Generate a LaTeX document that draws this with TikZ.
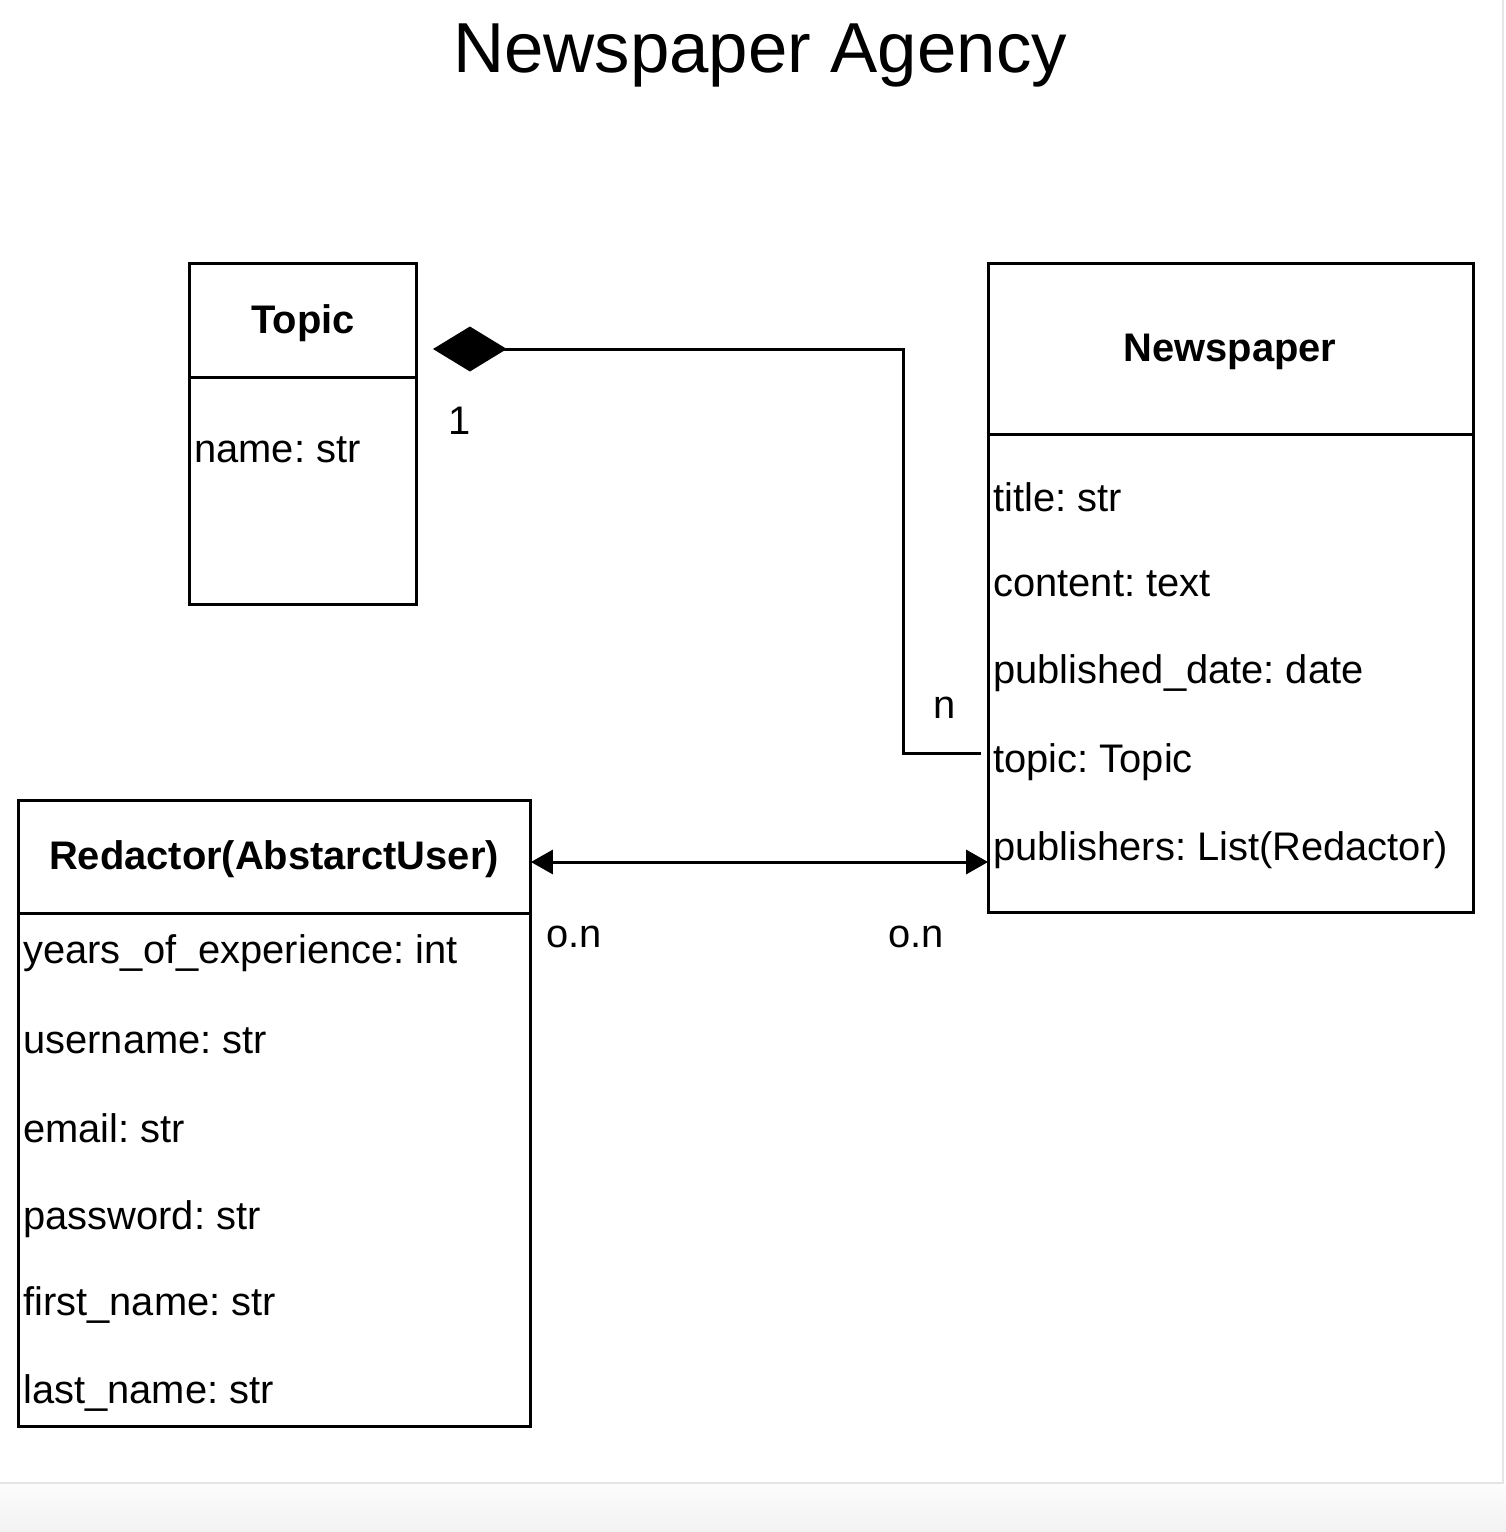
\documentclass[tikz,border=0pt]{standalone}
\usepackage{fontspec}
\setmainfont{Liberation Sans}
\usetikzlibrary{arrows.meta,calc}
\newcommand\umlfont{\frenchspacing\fontsize{22.7pt}{27pt}\selectfont}
\newcommand\titlefont{\frenchspacing\fontsize{40.3pt}{48pt}\selectfont}
\begin{document}
\begin{tikzpicture}[x=0.02cm,y=-0.02cm,
  classbox/.style={draw, line width=1.7pt, inner sep=0pt, outer sep=0pt},
  header/.style={font=\umlfont\bfseries, inner sep=0pt},
  attr/.style={font=\umlfont, anchor=west, inner sep=0pt},
  mult/.style={font=\umlfont, inner sep=0pt},
  link/.style={line width=1.7pt}]
  % page frame and the light strip at the bottom
  \useasboundingbox (0,0) rectangle (1506,1532);
  \fill[white] (0,0) rectangle (1506,1532);
  \shade[top color=white!99!black, bottom color=white!95!black] (0,1483) rectangle (1506,1532);
  \draw[white!90!black, line width=0.6pt] (0,1483) -- (1503,1483) -- (1503,0);

  % title
  \node[font=\titlefont, inner sep=0pt] (title) at (760,55) {Newspaper Agency};

  % Topic class
  \node[classbox, minimum width=4.56cm, minimum height=6.84cm] (topic) at (303,434) {};
  \draw[link] ($(topic.north west)+(0,114)$) -- ($(topic.north east)+(0,114)$);
  \node[header] (topicname) at (303,323) {Topic};
  \node[attr] (tname) at (194,450) {name: str};

  % Newspaper class
  \node[classbox, minimum width=9.72cm, minimum height=13cm] (news) at (1231,588) {};
  \draw[link] ($(news.north west)+(0,171)$) -- ($(news.north east)+(0,171)$);
  \node[header] (newsname) at (1230,352) {Newspaper};
  \node[attr] (ntitle) at (993,497) {title: str};
  \node[attr] (ncontent) at (993,584) {content: text};
  \node[attr] (ndate) at (993,673) {published\_date: date};
  \node[attr] (ntopic) at (993,762) {topic: Topic};
  \node[attr] (npub) at (993,850) {publishers: List(Redactor)};

  % Redactor class
  \node[classbox, minimum width=10.26cm, minimum height=12.54cm] (red) at (274.5,1113.5) {};
  \draw[link] ($(red.north west)+(0,113)$) -- ($(red.north east)+(0,113)$);
  \node[header] (redname) at (274,859) {Redactor(AbstarctUser)};
  \node[attr] (ryears) at (23,953) {years\_of\_experience: int};
  \node[attr] (ruser) at (23,1041) {username: str};
  \node[attr] (remail) at (23,1128) {email: str};
  \node[attr] (rpass) at (23,1219) {password: str};
  \node[attr] (rfirst) at (23,1305) {first\_name: str};
  \node[attr] (rlast) at (23,1393) {last\_name: str};

  % composition: Newspaper.topic -> Topic
  \coordinate (diamondtip) at (433,349);
  \draw[link, -{Diamond[length=42pt, width=25.6pt]}]
    ($(ntopic.west)+(-12,-9)$) -- ++(-78,0) |- (diamondtip);
  \node[mult] (one) at (460,421) {1};
  \node[mult] (many) at (945,708) {n};

  % many-to-many: Redactor <-> Newspaper
  \coordinate (row) at (760,862);
  \draw[link, {Triangle[length=12.5pt, width=13.7pt]}-{Triangle[length=12.5pt, width=13.7pt]}]
    (red.east |- row) -- (news.west |- row);
  \node[mult] (onleft) at (574,937) {o.n};
  \node[mult] (onright) at (916,937) {o.n};
\end{tikzpicture}
\end{document}
